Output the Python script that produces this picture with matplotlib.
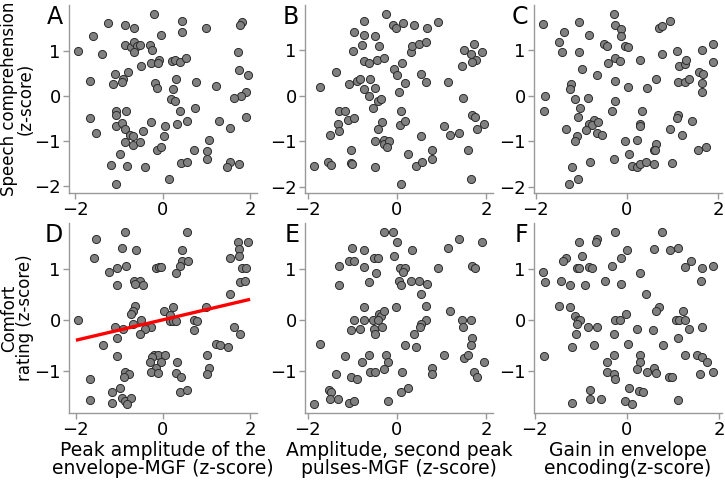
import numpy as np
import matplotlib
matplotlib.use("Agg")
import matplotlib.pyplot as plt

# Panel A: peak amplitude envelope-MGF vs speech comprehension
a_x = [-0.19, -1.25, -0.87, -0.65, 0.43, 0.45, 0.99, 1.82, 1.77, -1.59, -0.05, -1.95, -1.38, -0.87, -0.72,
       -0.65, -0.59, -0.52, -0.66, -0.30, -0.24, 1.72, -0.27, -0.09, -0.11, 0.20, 0.29, 0.40, 0.54, -0.49,
       -1.10, -0.79, 1.75, 1.96, -1.67, -1.15, -0.92, -0.93, -0.17, -0.13, 0.30, 0.77, 1.22, 0.24, 1.91,
       1.78, 1.62, 0.18, 0.27, -1.06, -0.85, -1.06, 0.73, 0.39, -1.67, 1.91, -0.26, 0.56, 1.28, -1.06,
       -0.93, -0.87, 0.05, 0.32, 1.53, -1.52, -0.45, -0.74, -0.67, -0.87, -0.67, -0.51, 0.02, 1.05, -0.14,
       -0.04, 0.71, 1.01, -0.98, 1.02, -1.18, -0.83, -0.41, 0.41, 0.55, 1.53, 1.46, 1.75, -1.06, 0.15]
a_y = [1.82, 1.61, 1.56, 1.49, 1.65, 1.41, 1.50, 1.64, 1.56, 1.32, 1.34, 0.99, 0.93, 1.13, 1.09,
       1.18, 1.10, 1.13, 0.98, 1.12, 1.01, 0.97, 0.73, 0.79, 0.72, 0.77, 0.80, 0.75, 0.84, 0.66,
       0.49, 0.52, 0.58, 0.46, 0.33, 0.27, 0.38, 0.31, 0.29, 0.18, 0.38, 0.31, 0.21, 0.15, 0.09,
       -0.01, -0.04, -0.08, -0.12, -0.34, -0.33, -0.43, -0.26, -0.34, -0.48, -0.46, -0.57, -0.55, -0.55, -0.66,
       -0.61, -0.74, -0.67, -0.62, -0.72, -0.82, -0.77, -0.87, -0.89, -1.01, -1.08, -1.01, -0.88, -0.98, -1.19,
       -1.13, -1.20, -1.21, -1.29, -1.39, -1.53, -1.56, -1.58, -1.48, -1.47, -1.47, -1.58, -1.50, -1.96, -1.85]

# Panel B: amplitude second peak pulses-MGF vs speech comprehension
b_x = [-0.25, -0.73, -0.10, -0.02, 0.13, 0.38, 0.68, 0.93, -0.97, -0.73, -0.50, -0.78, -0.41, -0.98, 0.31,
       0.34, 0.50, 0.66, 1.73, 1.51, 1.66, 1.91, 1.77, 1.68, 1.45, -0.75, -0.63, -0.45, -0.28, 0.12,
       -0.07, 0.01, 0.53, -1.36, -1.72, -1.08, -0.90, -0.84, -0.60, 0.19, 0.66, 1.15, -0.75, -0.50, -0.63,
       -0.43, -0.36, 0.04, -0.54, 1.49, -1.31, -1.17, 0.09, -1.33, -1.09, -0.97, -0.34, 0.07, 0.19, 1.67,
       1.74, 1.06, 1.96, 1.80, -1.30, -0.43, -1.51, 0.54, 1.18, 1.40, -0.50, -0.29, -0.28, -0.19, -0.22,
       -1.03, 0.25, 0.78, 1.60, 0.79, -1.54, -1.48, -1.04, -1.01, -1.87, -0.49, 0.43, 0.55, 0.09, 1.65]
b_y = [1.81, 1.64, 1.55, 1.49, 1.60, 1.55, 1.49, 1.63, 1.41, 1.33, 1.31, 1.11, 1.09, 0.98, 0.97,
       1.09, 1.13, 1.18, 1.13, 1.00, 0.92, 0.97, 0.79, 0.74, 0.65, 0.76, 0.72, 0.79, 0.84, 0.72,
       0.58, 0.45, 0.49, 0.53, 0.20, 0.27, 0.33, 0.38, 0.38, 0.29, 0.31, 0.31, 0.15, 0.18, -0.01,
       -0.12, -0.07, 0.09, -0.26, -0.04, -0.33, -0.33, -0.33, -0.61, -0.54, -0.48, -0.57, -0.64, -0.55, -0.42,
       -0.47, -0.67, -0.61, -0.74, -0.77, -0.72, -0.87, -0.89, -0.87, -0.82, -1.00, -0.97, -1.07, -1.00, -1.12,
       -1.19, -1.28, -1.19, -1.19, -1.38, -1.46, -1.52, -1.47, -1.50, -1.55, -1.57, -1.55, -1.46, -1.95, -1.84]

# Panel C: gain in envelope encoding vs speech comprehension
c_x = [-0.28, -1.85, -1.04, -0.27, -0.13, -0.13, -1.39, -0.82, 0.71, 0.78, 0.94, -1.49, -1.43, -1.04, -0.50,
       -0.44, -0.03, 0.02, 0.78, 1.09, 1.65, 1.89, 1.90, -0.26, -0.15, -0.42, 0.29, 1.14, 1.28, 1.29,
       -0.99, -0.65, 1.58, 1.66, -1.22, -1.25, -0.25, 0.02, 0.44, 0.64, 1.12, 1.27, 1.36, 1.65, 1.64,
       -1.79, -1.13, -0.85, -0.25, -1.03, -1.82, -0.33, 0.34, -1.08, -0.72, -0.82, -0.77, -0.64, -0.90, -0.65,
       -0.55, 0.29, 0.29, 1.12, 1.10, 1.42, -1.33, 0.94, 1.21, -1.09, -1.13, -0.05, 0.22, 0.65, 0.59,
       0.62, 0.05, -0.28, 1.55, 1.74, -1.21, -0.80, 0.12, 0.22, 0.28, 0.41, 0.59, 1.00, -1.26, -1.07]
c_y = [1.81, 1.59, 1.62, 1.55, 1.48, 1.31, 1.41, 1.33, 1.49, 1.54, 1.64, 1.18, 0.97, 0.97, 1.13,
       1.09, 1.09, 1.08, 0.92, 0.98, 1.00, 1.13, 0.74, 0.84, 0.76, 0.72, 0.79, 0.65, 0.71, 0.79,
       0.58, 0.45, 0.53, 0.49, 0.27, 0.15, 0.33, 0.20, 0.18, 0.38, 0.31, 0.30, 0.38, 0.29, 0.08,
       -0.01, -0.08, -0.05, -0.12, -0.26, -0.34, -0.33, -0.34, -0.46, -0.54, -0.61, -0.65, -0.57, -0.76, -0.82,
       -0.87, -0.61, -0.67, -0.42, -0.48, -0.55, -0.72, -0.74, -0.87, -0.89, -1.00, -1.00, -0.97, -1.07, -1.19,
       -1.19, -1.28, -1.38, -1.19, -1.12, -1.56, -1.46, -1.55, -1.57, -1.51, -1.46, -1.49, -1.47, -1.95, -1.84]

# Panel D: peak amplitude envelope-MGF vs comfort rating
d_x = [-0.87, 0.54, -1.53, -0.93, -0.61, 0.43, -1.59, 0.44, 0.57, 0.39, -0.86, -0.17, -0.09, -0.04, -1.25,
       -1.06, 0.29, 1.72, 1.95, 1.75, 1.75, 1.53, 1.81, 1.91, 1.77, 1.89, 1.54, -0.66, -0.52, -0.65,
       -0.45, -1.05, -0.65, -0.68, -0.74, 0.02, 0.24, 0.17, 0.99, -1.96, -0.50, 0.15, 0.23, 0.29, 0.71,
       0.77, -1.11, -0.91, -0.68, -0.27, -0.41, -0.52, 0.71, 1.62, 1.77, -1.06, -1.38, 1.22, 1.30, 1.48,
       -1.06, -0.20, -0.11, 0.05, -0.25, -0.30, -0.05, 0.32, 1.01, 1.05, -0.15, -0.27, -0.12, 0.30, 0.42,
       1.02, -0.87, -0.77, -0.89, -1.67, -0.99, -1.18, 0.40, 0.55, -0.93, -0.87, -0.74, -0.83, -1.16, -1.67]
d_y = [1.74, 1.74, 1.60, 1.42, 1.37, 1.37, 1.22, 1.16, 1.16, 1.07, 1.07, 1.02, 1.05, 1.05, 0.95,
       1.02, 0.93, 1.54, 1.54, 1.40, 1.26, 1.22, 1.02, 1.02, 0.75, 0.77, 0.51, 0.77, 0.77, 0.70,
       0.68, 0.68, 0.28, 0.17, 0.11, 0.17, 0.26, 0.09, 0.26, 0.00, 0.00, -0.01, -0.01, -0.01, 0.00,
       -0.01, -0.13, -0.18, -0.08, -0.13, -0.18, -0.27, -0.20, -0.13, -0.27, -0.35, -0.50, -0.48, -0.50, -0.53,
       -0.71, -0.68, -0.68, -0.68, -0.73, -0.82, -0.82, -0.82, -0.68, -0.95, -0.95, -1.03, -1.04, -1.04, -1.13,
       -1.07, -1.03, -1.07, -1.13, -1.17, -1.33, -1.41, -1.42, -1.38, -1.54, -1.59, -1.54, -1.66, -1.64, -1.58]

# regression line shown in panel D
d_fit_x = [-1.96, 1.96]
d_fit_y = [-0.39, 0.40]

# Panel E: amplitude second peak pulses-MGF vs comfort rating
e_x = [-0.28, -0.10, 0.01, 1.40, 1.90, 1.15, -1.01, -0.73, 0.34, -0.07, -0.51, -0.42, -1.08, -0.96, -1.31,
       -0.74, -0.46, 0.07, 0.19, 0.13, 0.93, 1.68, 1.75, -0.63, 0.04, 0.09, 0.31, 0.50, 0.68, -1.30,
       0.54, -0.74, -0.03, 0.66, 1.18, -0.41, -0.35, -0.28, -0.97, -0.75, -0.54, -0.43, 0.66, 1.46, 1.66,
       -1.03, -0.84, -0.51, -0.34, -0.49, 0.53, 0.51, 1.49, 0.38, 1.69, -1.72, 0.19, 0.43, 1.66, -1.17,
       -0.63, -0.25, 1.06, 1.51, 1.60, -0.78, -0.21, 1.96, -0.29, -0.60, -0.50, 0.12, 0.78, 0.79, 1.72,
       1.80, -1.36, -1.03, -0.90, -1.53, -1.48, -1.51, -1.32, 0.09, 0.25, -1.87, -1.08, -0.97, -0.20]
e_y = [1.74, 1.74, 1.54, 1.60, 1.54, 1.42, 1.41, 1.37, 1.37, 1.26, 1.22, 1.22, 1.17, 1.17, 1.07,
       1.05, 0.93, 1.02, 1.02, 0.95, 1.02, 1.07, 1.03, 0.75, 0.77, 0.68, 0.77, 0.77, 0.70, 0.68,
       0.51, 0.26, 0.26, 0.28, 0.17, 0.12, 0.08, 0.17, 0.00, 0.00, 0.00, 0.00, 0.00, 0.00, 0.00,
       -0.20, -0.17, -0.17, -0.13, -0.27, -0.08, -0.13, -0.13, -0.27, -0.35, -0.48, -0.50, -0.53, -0.50, -0.71,
       -0.69, -0.69, -0.68, -0.74, -0.68, -0.82, -0.82, -0.82, -0.96, -1.03, -1.03, -1.03, -0.95, -1.07, -1.03,
       -1.13, -1.07, -1.13, -1.17, -1.38, -1.41, -1.55, -1.55, -1.42, -1.33, -1.66, -1.64, -1.59, -1.60]

# Panel F: gain in envelope encoding vs comfort rating
f_x = [-0.25, 0.77, -0.64, -1.03, -0.66, 0.01, 0.59, 0.93, 1.11, -0.98, -1.32, -1.39, -0.13, 1.40, -1.83,
       -1.77, -1.09, -1.03, -0.82, -0.75, -0.32, 0.28, 1.27, 1.63, 1.88, -1.42, -1.24, -0.90, -0.48, -0.13,
       1.62, 0.41, -1.48, -1.24, -1.12, -1.06, -1.02, -1.09, -0.84, -0.64, -0.26, -0.14, -0.01, 0.70, 0.64,
       1.21, 1.07, 1.14, 1.27, 0.22, 0.57, 1.34, 1.63, -1.11, -0.27, 1.11, -1.20, -0.72, 0.03, 0.78,
       -1.80, -0.28, 0.29, 1.27, 1.53, 1.63, 1.73, -0.44, 0.29, 0.22, 0.60, 0.64, -0.43, -0.27, -0.25,
       0.43, 0.92, 0.99, 1.58, 1.88, 0.05, 0.26, 0.34, -0.80, -0.81, -0.56, -0.05, 0.12, 1.10, -1.20]
f_y = [1.74, 1.74, 1.60, 1.54, 1.54, 1.37, 1.40, 1.37, 1.42, 1.26, 1.22, 1.16, 1.22, 1.16, 0.95,
       0.75, 1.02, 1.02, 1.05, 1.02, 1.07, 0.93, 1.05, 1.02, 1.07, 0.77, 0.68, 0.68, 0.77, 0.70,
       0.77, 0.51, 0.28, 0.26, 0.08, 0.00, 0.00, -0.08, -0.13, -0.13, 0.00, 0.00, 0.12, 0.26, 0.17,
       0.17, 0.00, 0.00, 0.00, -0.17, -0.20, -0.17, -0.13, -0.27, -0.27, -0.35, -0.53, -0.50, -0.48, -0.50,
       -0.71, -0.69, -0.68, -0.68, -0.68, -0.73, -0.82, -0.82, -0.82, -0.96, -0.95, -1.04, -1.03, -1.07, -1.17,
       -1.03, -1.13, -1.13, -1.07, -1.03, -1.33, -1.40, -1.41, -1.38, -1.55, -1.55, -1.60, -1.66, -1.58, -1.64]

panel_data = [(a_x, a_y), (b_x, b_y), (c_x, c_y), (d_x, d_y), (e_x, e_y), (f_x, f_y)]
letters = ["A", "B", "C", "D", "E", "F"]
x_labels = ["Peak amplitude of the\nenvelope-MGF (z-score)",
            "Amplitude, second peak\npulses-MGF (z-score)",
            "Gain in envelope\nencoding(z-score)"]
y_labels = ["Speech comprehension\n(z-score)", "Comfort\nrating (z-score)"]

fig = plt.figure(figsize=(7.25, 4.84), dpi=100)

W, H = 725.0, 484.0
col_left = [69, 305, 534]
col_w = 188
row_top = [5, 223]
row_h = [188, 190]

for i, (xs, ys) in enumerate(panel_data):
    r, c = divmod(i, 3)
    ax = fig.add_axes([col_left[c] / W, 1 - (row_top[r] + row_h[r]) / H, col_w / W, row_h[r] / H])
    ax.scatter(xs, ys, s=34, c="#808080", edgecolors="#2b2b2b", linewidths=0.7, zorder=3)
    if i == 3:
        ax.plot(d_fit_x, d_fit_y, color="red", lw=2.4, zorder=4)

    ax.set_xticks([-2, 0, 2])
    if r == 0:
        ax.set_yticks([-2, -1, 0, 1])
    else:
        ax.set_yticks([-1, 0, 1])

    for side in ["top", "right"]:
        ax.spines[side].set_visible(False)
    for side in ["left", "bottom"]:
        ax.spines[side].set_color("#999999")
        ax.spines[side].set_linewidth(1.0)
    ax.tick_params(colors="#999999", labelcolor="black", labelsize=13, length=4, width=1, pad=2)

    ax.text(-0.03, 1.0, letters[i], transform=ax.transAxes, fontsize=17,
            ha="right", va="top")

    if r == 1:
        ax.set_xlabel(x_labels[c], fontsize=13.5, linespacing=0.95)
        ax.xaxis.set_label_coords(0.5, -0.148)
    if c == 0:
        ax.set_ylabel(y_labels[r], fontsize=12, linespacing=0.85)
        ax.yaxis.set_label_coords(-0.185, 0.5)

fig.savefig("out.png", dpi=100)
